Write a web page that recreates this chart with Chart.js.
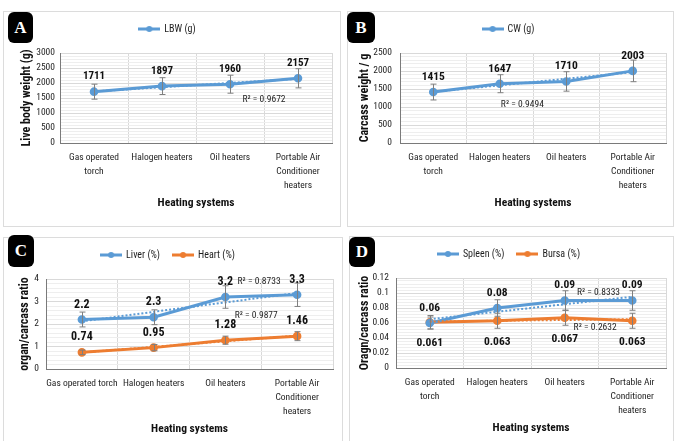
<!DOCTYPE html>
<html>
<head>
<meta charset="utf-8">
<script src="https://cdn.jsdelivr.net/npm/chart.js@4.4.0/dist/chart.umd.min.js"></script>
<style>
  body { margin: 0; background: #fff; width: 675px; height: 441px; overflow: hidden; position: relative; }
  .frame { position: absolute; border: 1px solid #dcdcdc; box-sizing: border-box; }
  canvas { position: absolute; }
  .tag { position: absolute; background: #000; color: #fff; text-align: center; border-radius: 6px;
         font: bold 17px 'Liberation Serif', 'DejaVu Serif', serif; z-index: 2; }
</style>
</head>
<body>
<div class="frame" style="left:3px;top:11px;width:338px;height:216px"></div>
<div class="frame" style="left:347px;top:11px;width:327px;height:216px"></div>
<div class="frame" style="left:3px;top:237px;width:340px;height:230px"></div>
<div class="frame" style="left:349px;top:236px;width:325px;height:230px"></div>

<canvas id="chartA" width="337" height="215" style="left:3px;top:11px"></canvas>
<canvas id="chartB" width="326" height="215" style="left:347px;top:11px"></canvas>
<canvas id="chartC" width="339" height="215" style="left:3px;top:237px"></canvas>
<canvas id="chartD" width="324" height="215" style="left:349px;top:236px"></canvas>

<div class="tag" style="left:8px;top:12px;width:25px;height:31px;line-height:31px">A</div>
<div class="tag" style="left:347px;top:12px;width:28px;height:31px;line-height:31px">B</div>
<div class="tag" style="left:8px;top:235px;width:26px;height:32px;line-height:32px">C</div>
<div class="tag" style="left:349px;top:237px;width:26px;height:30px;line-height:30px">D</div>

<script>
// categories and tick labels
const categories = ['Gas operated torch', 'Halogen heaters', 'Oil heaters', 'Portable Air Conditioner heaters'];
const tickLabels = [['Gas operated', 'torch'], 'Halogen heaters', 'Oil heaters', ['Portable Air', 'Conditioner', 'heaters']];
const tickLabelsC = ['Gas operated torch', 'Halogen heaters', 'Oil heaters', ['Portable Air', 'Conditioner', 'heaters']];

// series values and error bar half-lengths
const lbw = [1711, 1897, 1960, 2157];
const lbwErr = [250, 280, 300, 320];
const cw = [1415, 1647, 1710, 2003];
const cwErr = [220, 250, 270, 300];
const liver = [2.2, 2.3, 3.2, 3.3];
const liverErr = [0.33, 0.33, 0.5, 0.52];
const heart = [0.74, 0.95, 1.28, 1.46];
const heartErr = [0.1, 0.14, 0.18, 0.2];
const spleen = [0.06, 0.08, 0.09, 0.09];
const spleenErr = [0.008, 0.011, 0.013, 0.013];
const bursa = [0.061, 0.063, 0.067, 0.063];
const bursaErr = [0.009, 0.01, 0.01, 0.01];

// R squared of the linear trend lines
const r2A = ['0.9672'];
const r2B = ['0.9494'];
const r2C = ['0.8733', '0.9877'];
const r2D = ['0.8333', '0.2632'];

const FONT = "'Roboto Condensed', 'DejaVu Sans Condensed', sans-serif";
const BLUE = '#5B9BD5';
const ORANGE = '#ED7D31';
const TEXT = '#1e1e1e';

Chart.defaults.font.family = FONT;
Chart.defaults.color = TEXT;

// small line + dot icon for the legend
function legendIcon(color) {
  const c = document.createElement('canvas');
  c.width = 22; c.height = 8;
  const g = c.getContext('2d');
  g.strokeStyle = color; g.lineWidth = 3;
  g.beginPath(); g.moveTo(0, 4); g.lineTo(22, 4); g.stroke();
  g.fillStyle = color;
  g.beginPath(); g.arc(11, 4, 3, 0, Math.PI * 2); g.fill();
  return c;
}

function linearFit(values) {
  const n = values.length;
  let sx = 0, sy = 0, sxx = 0, sxy = 0;
  values.forEach((v, i) => { sx += i; sy += v; sxx += i * i; sxy += i * v; });
  const slope = (n * sxy - sx * sy) / (n * sxx - sx * sx);
  return { slope, intercept: (sy - slope * sx) / n };
}

// keeps a fixed gap between legend and plot
const legendSpace = {
  id: 'legendSpace',
  beforeLayout(chart) {
    const lg = chart.legend;
    if (!lg || lg._spaced) return;
    const fit = lg.fit.bind(lg);
    lg.fit = function () { fit(); this.height = 42; };
    lg._spaced = true;
  }
};

// dotted linear trend lines
const trendLines = {
  id: 'trendLines',
  afterDatasetsDraw(chart) {
    const { ctx, scales: { x, y } } = chart;
    chart.data.datasets.forEach(ds => {
      const f = linearFit(ds.data);
      const last = ds.data.length - 1;
      ctx.save();
      ctx.strokeStyle = ds.borderColor;
      ctx.lineWidth = 2;
      ctx.setLineDash([2, 2]);
      ctx.beginPath();
      ctx.moveTo(x.getPixelForValue(0), y.getPixelForValue(f.intercept));
      ctx.lineTo(x.getPixelForValue(last), y.getPixelForValue(f.intercept + f.slope * last));
      ctx.stroke();
      ctx.restore();
    });
  }
};

const errorBars = {
  id: 'errorBars',
  afterDatasetsDraw(chart) {
    const { ctx, scales: { y } } = chart;
    chart.data.datasets.forEach((ds, i) => {
      if (!ds.errors) return;
      const meta = chart.getDatasetMeta(i);
      ctx.save();
      ctx.strokeStyle = '#7f7f7f';
      ctx.lineWidth = 1;
      meta.data.forEach((pt, j) => {
        const top = y.getPixelForValue(ds.data[j] + ds.errors[j]);
        const bot = y.getPixelForValue(ds.data[j] - ds.errors[j]);
        const px = Math.round(pt.x) + 0.5;
        ctx.beginPath();
        ctx.moveTo(px, top); ctx.lineTo(px, bot);
        ctx.moveTo(px - 3, top); ctx.lineTo(px + 3, top);
        ctx.moveTo(px - 3, bot); ctx.lineTo(px + 3, bot);
        ctx.stroke();
      });
      ctx.restore();
    });
  }
};

const valueLabels = {
  id: 'valueLabels',
  afterDatasetsDraw(chart, args, opts) {
    const ctx = chart.ctx;
    chart.data.datasets.forEach((ds, i) => {
      const meta = chart.getDatasetMeta(i);
      ctx.save();
      ctx.font = 'bold ' + (opts.size || 11) + 'px ' + FONT;
      ctx.fillStyle = '#111';
      ctx.textAlign = 'center';
      ctx.textBaseline = 'middle';
      meta.data.forEach((pt, j) => {
        ctx.fillText(String(ds.data[j]), pt.x, pt.y + ds.labelOffset);
      });
      ctx.restore();
    });
  }
};

const rSquared = {
  id: 'rsq',
  afterDatasetsDraw(chart, args, opts) {
    const { ctx, scales: { x, y } } = chart;
    ctx.save();
    ctx.font = '9.5px ' + FONT;
    ctx.fillStyle = TEXT;
    ctx.textAlign = 'center';
    ctx.textBaseline = 'middle';
    (opts.items || []).forEach(it => {
      ctx.fillText('R² = ' + it.text, x.getPixelForValue(it.at), y.getPixelForValue(it.value));
    });
    ctx.restore();
  }
};

function isMajor(v, major) {
  const r = v / major;
  return Math.abs(r - Math.round(r)) < 1e-6;
}

function makeDataset(label, data, errors, color, labelOffset) {
  return {
    label: label,
    data: data,
    errors: errors,
    labelOffset: labelOffset,
    borderColor: color,
    backgroundColor: color,
    borderWidth: 3,
    pointRadius: 2.8,
    pointBackgroundColor: color,
    pointBorderColor: color,
    tension: 0
  };
}

function makeChart(id, p) {
  const ctx = document.getElementById(id).getContext('2d');
  return new Chart(ctx, {
    type: 'line',
    data: { labels: p.labels, datasets: p.datasets },
    options: {
      responsive: false,
      animation: false,
      events: [],
      layout: { padding: { left: 0, right: p.padRight, top: 0, bottom: 0 } },
      plugins: {
        legend: {
          position: 'top',
          labels: {
            usePointStyle: true,
            pointStyleWidth: 20,
            padding: 13,
            color: TEXT,
            font: { size: 10 },
            generateLabels: chart => chart.data.datasets.map((ds, i) => ({
              text: ds.label,
              pointStyle: legendIcon(ds.borderColor),
              fillStyle: ds.borderColor,
              strokeStyle: ds.borderColor,
              lineWidth: 0,
              hidden: false,
              datasetIndex: i,
              fontColor: TEXT
            }))
          }
        },
        tooltip: { enabled: false },
        valueLabels: { size: p.labelSize },
        rsq: { items: p.rsq }
      },
      scales: {
        x: {
          offset: true,
          grid: { color: '#d9d9d9', drawTicks: false, offset: true },
          border: { color: '#7a7a7a' },
          ticks: { color: TEXT, font: { size: 9.5, lineHeight: 1.45 }, padding: 8, maxRotation: 0, autoSkip: false },
          title: { display: true, text: 'Heating systems', color: '#111', font: { size: 11.5, weight: 'bold' }, padding: { top: 0, bottom: 16 } },
          afterFit: s => { s.height = 83; }
        },
        y: {
          min: 0,
          max: p.max,
          ticks: {
            stepSize: p.minor,
            autoSkip: false,
            padding: p.tickPad,
            color: TEXT,
            font: { size: 9.5 },
            callback: v => isMajor(v, p.major) ? String(Number(v.toFixed(4))) : ''
          },
          grid: {
            drawTicks: false,
            color: c => (c.tick && !isMajor(c.tick.value, p.major)) ? '#eeeeee' : '#d9d9d9'
          },
          border: { color: '#7a7a7a' },
          title: { display: true, text: p.yTitle, color: '#111', font: { size: 12, weight: 'bold' }, padding: { top: p.titleX - 7.2, bottom: 0 } },
          afterFit: s => { s.width = p.yWidth; }
        }
      }
    },
    plugins: [legendSpace, trendLines, errorBars, valueLabels, rSquared]
  });
}

makeChart('chartA', {
  labels: tickLabels,
  datasets: [makeDataset('LBW (g)', lbw, lbwErr, BLUE, -15)],
  max: 3000, major: 500, minor: 100, labelSize: 11,
  yTitle: 'Live body weight (g)', yWidth: 57, titleX: 24, tickPad: 5, padRight: 8,
  rsq: [{ text: r2A[0], at: 2.5, value: 1433 }]
});

makeChart('chartB', {
  labels: tickLabels,
  datasets: [makeDataset('CW (g)', cw, cwErr, BLUE, -15)],
  max: 2500, major: 500, minor: 100, labelSize: 11.5,
  yTitle: 'Carcass weight / g', yWidth: 53, titleX: 18, tickPad: 8, padRight: 3,
  rsq: [{ text: r2B[0], at: 1.34, value: 1056 }]
});

makeChart('chartC', {
  labels: tickLabelsC,
  datasets: [
    makeDataset('Liver (%)', liver, liverErr, BLUE, -15),
    makeDataset('Heart (%)', heart, heartErr, ORANGE, -15)
  ],
  max: 4, major: 1, minor: 0.2, labelSize: 12,
  yTitle: 'organ/carcass ratio', yWidth: 43, titleX: 22, tickPad: 7, padRight: 9,
  rsq: [{ text: r2C[0], at: 2.47, value: 3.88 }, { text: r2C[1], at: 2.43, value: 2.36 }]
});

makeChart('chartD', {
  labels: tickLabels,
  datasets: [
    makeDataset('Spleen (%)', spleen, spleenErr, BLUE, -15),
    makeDataset('Bursa (%)', bursa, bursaErr, ORANGE, 21)
  ],
  max: 0.12, major: 0.02, minor: 0.004, labelSize: 11.5,
  yTitle: 'Oragn/carcass ratio', yWidth: 47, titleX: 16, tickPad: 7, padRight: 4,
  rsq: [{ text: r2D[0], at: 2.5, value: 0.101 }, { text: r2D[1], at: 2.45, value: 0.0543 }]
});
</script>
</body>
</html>
